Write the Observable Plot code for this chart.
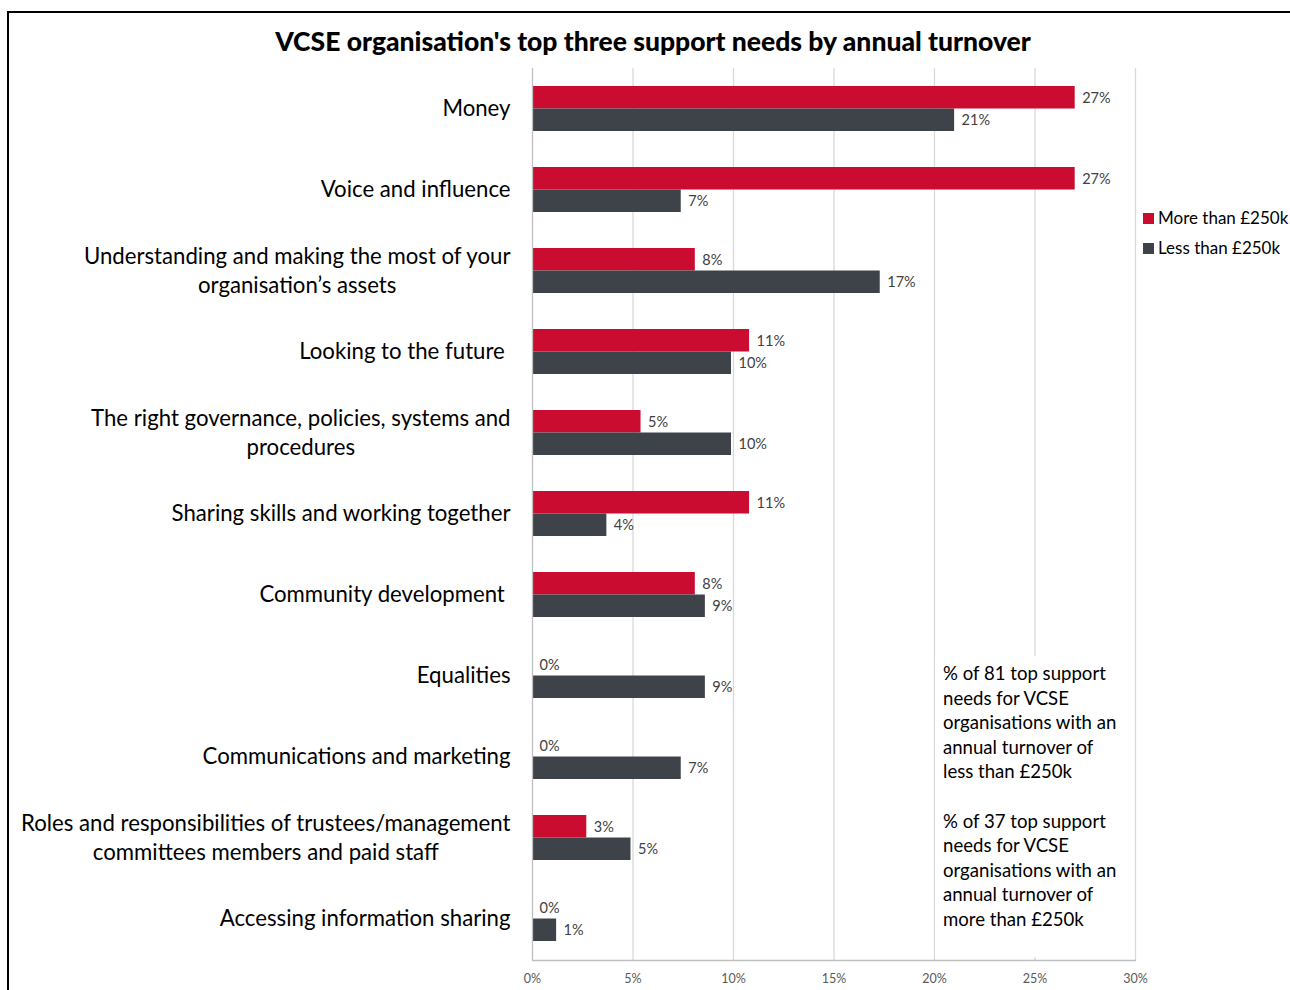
<!DOCTYPE html>
<html>
<head>
<meta charset="utf-8">
<script src="https://cdn.jsdelivr.net/npm/d3@7"></script>
<script src="https://cdn.jsdelivr.net/npm/@observablehq/plot@0.6"></script>
<style>
  html, body { margin: 0; padding: 0; background: #fff; }
  body { width: 1290px; height: 990px; overflow: hidden; position: relative; font-family: Lato, "Open Sans", sans-serif; }
  #frame { position: absolute; left: 7px; top: 11px; width: 1320px; height: 1020px; border: 2px solid #000; box-sizing: border-box; }
  #title { position: absolute; left: 8px; top: 23px; width: 1290px; text-align: center; font-weight: 900; font-size: 26.5px; line-height: 36px; color: #000; }
  #chart { position: absolute; left: 0; top: 0; }
  #legend { position: absolute; left: 1143px; top: 206px; font-size: 17px; color: #000; white-space: nowrap; }
  #legend div { height: 30px; line-height: 24px; }
  #legend span.sw { display: inline-block; width: 11px; height: 11px; margin-right: 4px; vertical-align: 0px; }
  #note { position: absolute; left: 935px; top: 656px; width: 197px; height: 301px; background: #fff; font-size: 18.6px; line-height: 24.6px; color: #000; padding: 5px 0 0 8px; box-sizing: border-box; white-space: nowrap; }
  #note p { margin: 0 0 24.6px 0; }
</style>
</head>
<body>
<div id="frame"></div>
<div id="chart"></div>
<div id="title"></div>
<div id="legend"></div>
<div id="note"></div>
<script>
const titleText = "VCSE organisation's top three support needs by annual turnover";
const categories = [
  "Money",
  "Voice and influence",
  "Understanding and making the most of your\norganisation’s assets",
  "Looking to the future\u00a0",
  "The right governance, policies, systems and\nprocedures",
  "Sharing skills and working together",
  "Community development\u00a0",
  "Equalities",
  "Communications and marketing",
  "Roles and responsibilities of trustees/management\ncommittees members and paid staff",
  "Accessing information sharing"
];
const seriesNames = ["More than £250k", "Less than £250k"];
const seriesColors = ["#c90c30", "#3e4249"];
const moreValues = [27.0, 27.0, 8.1, 10.8, 5.4, 10.8, 8.1, 0, 0, 2.7, 0];
const lessValues = [21.0, 7.4, 17.3, 9.9, 9.9, 3.7, 8.6, 8.6, 7.4, 4.9, 1.2];
const xTicks = [0, 5, 10, 15, 20, 25, 30];
const noteParagraphs = [
  ["% of 81 top support", "needs for VCSE", "organisations with an", "annual turnover of", "less than £250k"],
  ["% of 37 top support", "needs for VCSE", "organisations with an", "annual turnover of", "more than £250k"]
];

const more = categories.map((c, i) => ({category: c, series: seriesNames[0], value: moreValues[i]}));
const less = categories.map((c, i) => ({category: c, series: seriesNames[1], value: lessValues[i]}));

const W = 1290, H = 990;
const marginTop = 68, marginBottom = 30, marginLeft = 532, marginRight = 155;
const padInner = 0.445;
const step = (H - marginTop - marginBottom) / categories.length;
const half = step * (1 - padInner) / 2;

const plot = Plot.plot({
  width: W,
  height: H,
  marginTop, marginBottom, marginLeft, marginRight,
  style: {fontFamily: "Lato, 'Open Sans', sans-serif", background: "transparent"},
  x: {domain: [0, 30], ticks: xTicks, tickFormat: d => d + "%"},
  y: {domain: categories, paddingInner: padInner, paddingOuter: padInner / 2, align: 0.5},
  marks: [
    Plot.ruleX(xTicks.slice(1), {stroke: "#d9d9d9", strokeWidth: 1.3}),
    Plot.barX(more, {x: "value", y: "category", fill: seriesColors[0], insetBottom: half, dy: -1}),
    Plot.barX(less, {x: "value", y: "category", fill: seriesColors[1], insetTop: half, dy: -1}),
    Plot.ruleX([0], {stroke: "#bfbfbf", strokeWidth: 1.3}),
    Plot.frame({anchor: "bottom", stroke: "#bfbfbf", strokeWidth: 1.3}),
    Plot.text(more, {x: "value", y: "category", dy: -half / 2 - 0.5, dx: 7, text: d => Math.round(d.value) + "%", textAnchor: "start", fontSize: 14.5, fill: "#404040"}),
    Plot.text(less, {x: "value", y: "category", dy: half / 2 - 0.5, dx: 7, text: d => Math.round(d.value) + "%", textAnchor: "start", fontSize: 14.5, fill: "#404040"}),
    Plot.axisX({anchor: "bottom", ticks: xTicks, tickFormat: d => d + "%", tickSize: 0, tickPadding: 14, fontSize: 12.5, color: "#595959", label: null}),
    Plot.axisY({anchor: "left", tickSize: 0, tickPadding: 22, fontSize: 22.2, lineHeight: 1.31, dy: -3, color: "#000", label: null})
  ]
});
document.getElementById("chart").appendChild(plot);

// centre the lines of multi-line category labels within their block (right-aligned block)
plot.querySelectorAll('g[aria-label="y-axis tick label"] text').forEach(t => {
  const spans = t.querySelectorAll("tspan");
  if (spans.length > 1) {
    const widths = Array.from(spans, s => s.getComputedTextLength());
    const wmax = Math.max(...widths);
    t.setAttribute("text-anchor", "middle");
    spans.forEach(s => s.setAttribute("x", -wmax / 2));
  }
});

document.getElementById("title").textContent = titleText;
const legend = document.getElementById("legend");
seriesNames.forEach((n, i) => {
  const row = document.createElement("div");
  const sw = document.createElement("span");
  sw.className = "sw";
  sw.style.background = seriesColors[i];
  row.appendChild(sw);
  row.appendChild(document.createTextNode(n));
  legend.appendChild(row);
});
const note = document.getElementById("note");
noteParagraphs.forEach(lines => {
  const el = document.createElement("p");
  lines.forEach((l, j) => {
    if (j) el.appendChild(document.createElement("br"));
    el.appendChild(document.createTextNode(l));
  });
  note.appendChild(el);
});
</script>
</body>
</html>
